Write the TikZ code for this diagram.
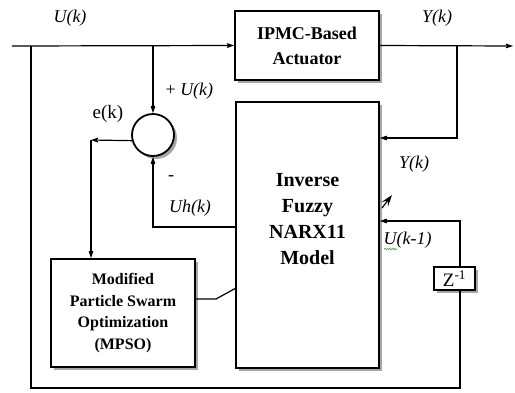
\documentclass[tikz,border=0pt]{standalone}
\usepackage{fontspec}
\setmainfont{Liberation Serif}
\usetikzlibrary{arrows.meta,shadows,decorations.pathmorphing}

\begin{document}
\begin{tikzpicture}[x=1pt, y=-1pt, line width=1.2pt,
  blockbox/.style={draw, line width=1.8pt, fill=white, align=center,
    inner sep=0pt, font=\bfseries,
    drop shadow={shadow xshift=3pt, shadow yshift=-3pt, fill=gray!70, opacity=1}},
  arr/.style={-{Stealth[length=13pt, width=9pt, inset=8pt]}},
  lbl/.style={inner sep=0pt, font=\fontsize{18}{18}\selectfont\itshape}]
  \useasboundingbox (0,0) rectangle (515,392);

  % blocks
  \node[blockbox, minimum width=144pt, minimum height=69pt,
        font=\fontsize{18}{25}\selectfont\bfseries] (ipmc) at (307,45.5)
        {IPMC-Based\\Actuator};
  \node[blockbox, minimum width=143pt, minimum height=266pt] (narx) at (307.5,235) {};
  \node[align=center, font=\fontsize{20}{26}\selectfont\bfseries] (narxtext) at (307.5,219)
        {Inverse\\Fuzzy\\NARX11\\Model};
  \node[blockbox, minimum width=144pt, minimum height=108pt,
        font=\fontsize{16}{21.5}\selectfont\bfseries] (mpso) at (123,313)
        {Modified\\Particle Swarm\\Optimization\\(MPSO)};
  \node[blockbox, minimum width=41pt, minimum height=23pt,
        font=\fontsize{19}{19}\selectfont] (z) at (454.5,278.5)
        {Z\textsuperscript{-1}};
  \node[draw, circle, line width=1.8pt, fill=white, minimum size=42pt, inner sep=0pt,
        drop shadow={shadow xshift=3pt, shadow yshift=-3pt, fill=gray!70, opacity=1}]
        (sum) at (153,135) {};

  % points on the lines
  \coordinate (uin) at (12,46);
  \coordinate (ul) at (31,46);
  \coordinate (ubr) at (153,46);
  \coordinate (ybr) at (457,46);
  \coordinate (yout) at (513,46);
  \coordinate (yfb) at (457,138);
  \coordinate (ek) at (91,140);
  \coordinate (uh) at (153,227);
  \coordinate (ufb) at (460,221);
  \coordinate (zb) at (460,388);
  \coordinate (mc) at (216,299);
  \coordinate (mn) at (236,288);
  \coordinate (sa) at (382,208);
  \coordinate (sb) at (392,195);

  % connectors
  \draw[arr] (uin) -- (ipmc.west);
  \draw[arr] (ipmc.east) -- (yout);
  \draw[arr] (ybr) -- (yfb) -- (narx.east |- yfb);
  \draw[arr] (ubr) -- (sum.north);
  \draw[arr] (sum.195) -- (ek);
  \draw[arr] (ek) -- (ek |- mpso.north);
  \draw[arr] (narx.west |- uh) -- (uh) -- (sum.south);
  \draw (mpso.east |- mc) -- (mc) -- (mn);
  \draw (ul) |- (zb) -- (zb |- z.south);
  \draw[arr] (zb |- z.north) -- (ufb) -- (narx.east |- ufb);
  \draw[-{Stealth[length=12pt, width=8pt, inset=5pt]}] (sa) -- (sb);

  % labels
  \node[lbl] (lu) at (70,18) {U(k)};
  \node[lbl] (ly) at (437,18) {Y(k)};
  \node[lbl, anchor=west] (lup) at (165,91) {{\upshape +} U(k)};
  \node[lbl, font=\fontsize{19}{19}\selectfont] (le) at (108,114) {e(k)};
  \node[lbl, font=\fontsize{18}{18}\selectfont] (lm) at (171,178) {-};
  \node[lbl] (luh) at (190,208) {Uh(k)};
  \node[lbl] (lyk) at (414,164) {Y(k)};
  \node[lbl, anchor=west] (luk) at (383,240) {U(k-1)};
  \draw[green!60!black, line width=0.5pt,
        decorate, decoration={snake, amplitude=0.6pt, segment length=2.5pt}]
        (384,249) -- (397,249);
\end{tikzpicture}
\end{document}
